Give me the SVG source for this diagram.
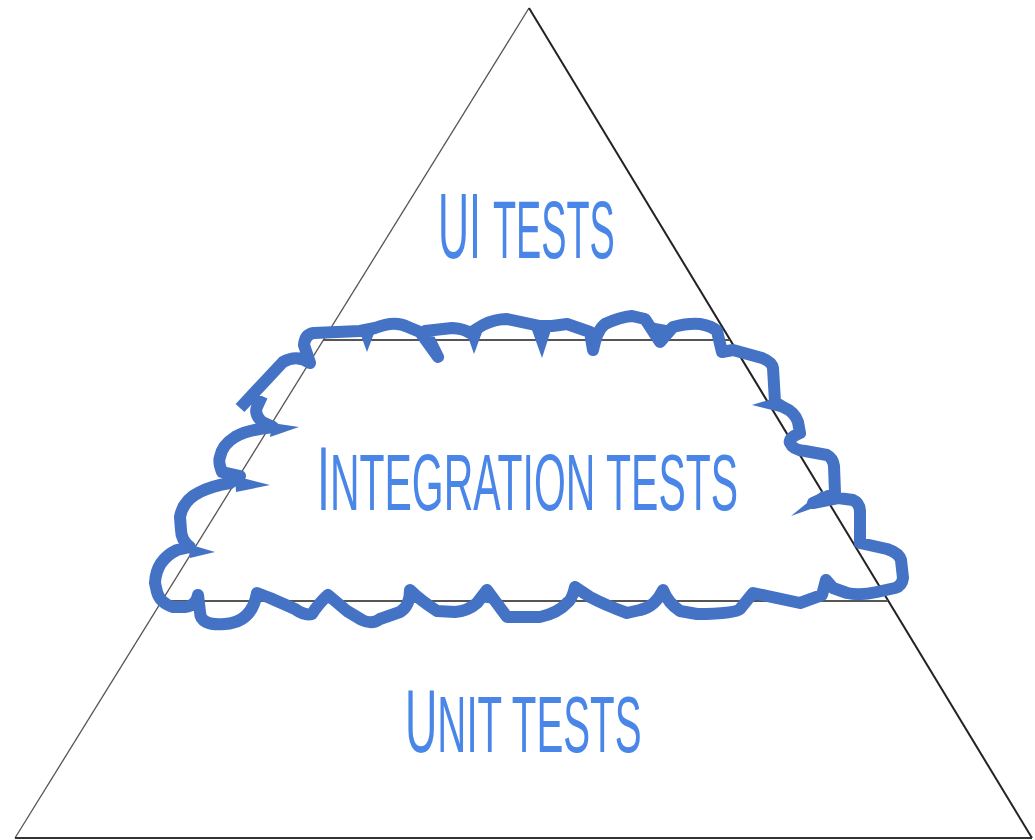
<svg xmlns="http://www.w3.org/2000/svg" width="1035" height="840" viewBox="0 0 1035 840">
<style>
.edgeL{stroke:#555;stroke-width:1.3;fill:none}
.edgeR{stroke:#222;stroke-width:2;fill:none}
.hline{stroke:#555;stroke-width:1.8;fill:none}
.cloud{stroke:#4472C4;stroke-width:12;fill:none;stroke-linejoin:round;stroke-linecap:butt}
.spike{fill:#4472C4;stroke:none}
.lbl{fill:#4A86E8;font-family:"Liberation Sans",Arial,sans-serif;font-weight:normal}
</style>
<rect width="1035" height="840" fill="#fff"/>
<g id="pyramid">
<line class="edgeL" x1="529" y1="8" x2="15" y2="838"/>
<line class="edgeR" x1="529" y1="8" x2="1032" y2="838"/>
<line class="edgeL" x1="15" y1="838" x2="1032" y2="838" style="stroke:#333;stroke-width:2"/>
<line class="hline" x1="323" y1="340" x2="730" y2="340"/>
<line class="hline" x1="162" y1="601" x2="888" y2="601"/>
</g>
<g id="cloud">
<path class="cloud" d="M240,408 L283,362 Q297,354 310,363 L304,345 Q305,334 314,333 L360,331 L375,328 Q395,320 408,327 L420,332 L438,357 L425,331 L452,328 Q465,329 470,333 L483,325 Q495,319 507,319 L540,326 L552,326 L567,324 L590,332 L593,350 Q597,330 605,324 Q620,317 632,316 L645,319 L660,342 L673,327 Q688,323 700,324 Q712,326 717,331 L722,352 L733,350 L762,358 Q772,362 773,368 L775,402 L783,407 Q795,412 798,422 L800,433 Q788,438 790,443 Q793,450 805,451 L827,455 Q833,458 834,466 L835,493 L813,503 L838,498 L853,500 Q860,503 860,512 L860,543 L887,549 Q899,553 901,560 L903,578 Q902,586 895,588 L877,592 Q860,596 847,593 L833,588 Q826,580 826,580 L822,595 L800,603 L753,593 L740,609 Q735,614 697,614 L680,611 Q668,603 663,590 Q655,607 640,610 L627,613 Q605,605 590,597 L575,587 Q572,600 567,603 Q558,613 540,617 L507,617 L487,590 L477,603 Q468,611 455,612 L437,611 Q420,600 410,590 Q410,606 400,612 L380,619 Q372,625 362,620 L347,611 L328,595 Q318,604 312,614 Q305,616 295,609 L270,598 L257,593 Q252,622 225,624 Q200,626 200,612 L198,595 Q196,606 185,607 L173,607 Q160,603 157,592 L155,583 Q156,560 177,550 L190,547 Q181,540 181,530 L180,517 Q183,500 200,492 Q212,486 230,483 L240,476 L222,472 Q218,462 220,457 Q222,445 235,437 Q247,430 273,427 L262,422 Q254,414 257,407 L262,396"/>
<polygon class="spike" points="359,330 376,328 367,352"/>
<polygon class="spike" points="466,331 484,327 474,354"/>
<polygon class="spike" points="532,330 552,327 542,358"/>
<polygon class="spike" points="650,322 672,326 662,347"/>
<polygon class="spike" points="775,398 780,412 752,405"/>
<polygon class="spike" points="823,490 822,505 791,516"/>
<polygon class="spike" points="479,602 496,604 487,585"/>
<polygon class="spike" points="188,544 190,558 215,552"/>
<polygon class="spike" points="235,476 236,492 270,485"/>
<polygon class="spike" points="272,423 270,437 299,427"/>
</g>
<g id="ui-tests">
<text class="lbl" transform="translate(438,258) scale(0.467,1)" x="0" y="0"><tspan font-size="92">UI </tspan><tspan font-size="81">TESTS</tspan></text>
</g>
<g id="integration-tests">
<text class="lbl" transform="translate(317,510) scale(0.512,1)" x="0" y="0"><tspan font-size="91">I</tspan><tspan font-size="80">NTEGRATION TESTS</tspan></text>
</g>
<g id="unit-tests">
<text class="lbl" transform="translate(405,752) scale(0.503,1)" x="0" y="0"><tspan font-size="89">U</tspan><tspan font-size="80">NIT TESTS</tspan></text>
</g>
</svg>
